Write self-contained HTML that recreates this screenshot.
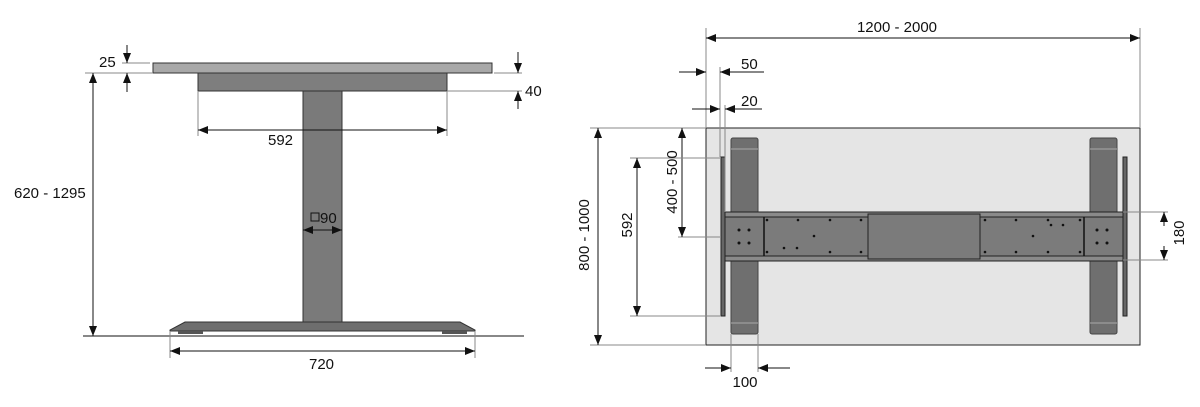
<!DOCTYPE html>
<html><head><meta charset="utf-8"><style>
html,body{margin:0;padding:0;background:#fff;}
svg{display:block;}
text{font-family:"Liberation Sans",sans-serif;font-size:15px;fill:#111;}
</style></head><body>
<svg width="1200" height="407" viewBox="0 0 1200 407" xmlns="http://www.w3.org/2000/svg">
<defs>
<marker id="a" viewBox="0 0 10 8" refX="10" refY="4" markerWidth="10" markerHeight="8" markerUnits="userSpaceOnUse" orient="auto-start-reverse"><path d="M0,0 L10,4 L0,8 z" fill="#111"/></marker>
</defs>
<g stroke="#111" stroke-width="1" fill="none">
<line x1="83" y1="336" x2="524" y2="336"/>
<rect x="153" y="63" width="339" height="10" fill="#a8a8a8" stroke="#333"/>
<rect x="198" y="73" width="249" height="18" fill="#7e7e7e" stroke="#333"/>
<rect x="303" y="91" width="39" height="231" fill="#7a7a7a" stroke="#333"/>
<path d="M185,322 L460,322 L475,330 L475,331 L170,331 L170,330 Z" fill="#6e6e6e" stroke="#333"/>
<rect x="178" y="331" width="25" height="3" fill="#555" stroke="none"/>
<rect x="442" y="331" width="25" height="3" fill="#555" stroke="none"/>
<line x1="85" y1="73" x2="153" y2="73" stroke="#888"/>
<line x1="93" y1="73" x2="93" y2="336" marker-start="url(#a)" marker-end="url(#a)"/>
<line x1="122" y1="63" x2="150" y2="63" stroke="#888"/>
<line x1="127" y1="45" x2="127" y2="63" marker-end="url(#a)"/>
<line x1="127" y1="92" x2="127" y2="73" marker-end="url(#a)"/>
<line x1="494" y1="73" x2="522" y2="73" stroke="#888"/>
<line x1="447" y1="91" x2="522" y2="91" stroke="#888"/>
<line x1="518" y1="52" x2="518" y2="73" marker-end="url(#a)"/>
<line x1="518" y1="109" x2="518" y2="91" marker-end="url(#a)"/>
<line x1="198" y1="91" x2="198" y2="136" stroke="#888"/>
<line x1="447" y1="91" x2="447" y2="136" stroke="#888"/>
<line x1="198" y1="130" x2="447" y2="130" marker-start="url(#a)" marker-end="url(#a)"/>
<line x1="303" y1="230" x2="342" y2="230" marker-start="url(#a)" marker-end="url(#a)"/>
<line x1="170" y1="331" x2="170" y2="358" stroke="#888"/>
<line x1="475" y1="331" x2="475" y2="358" stroke="#888"/>
<line x1="170" y1="351" x2="475" y2="351" marker-start="url(#a)" marker-end="url(#a)"/>

<rect x="706" y="128" width="434" height="217" fill="#e5e5e5" stroke="#222"/>
<rect x="731" y="138" width="27" height="196" rx="2" fill="#6f6f6f" stroke="#444"/>
<rect x="1090" y="138" width="27" height="196" rx="2" fill="#6f6f6f" stroke="#444"/>
<line x1="731" y1="149" x2="758" y2="149" stroke="#aaa"/><line x1="731" y1="323" x2="758" y2="323" stroke="#aaa"/>
<line x1="1090" y1="149" x2="1117" y2="149" stroke="#aaa"/><line x1="1090" y1="323" x2="1117" y2="323" stroke="#aaa"/>
<rect x="721" y="157" width="4" height="159" fill="#666" stroke="#222"/>
<rect x="1123" y="157" width="4" height="159" fill="#666" stroke="#222"/>
<rect x="725" y="212" width="398" height="49" fill="#8a8a8a" stroke="#222"/>
<rect x="868" y="214" width="112" height="45" fill="#7b7b7b" stroke="#222"/>
<rect x="725" y="217" width="143" height="39" fill="#7b7b7b" stroke="#222"/>
<rect x="980" y="217" width="143" height="39" fill="#7b7b7b" stroke="#222"/>
<line x1="764" y1="217" x2="764" y2="256" stroke-width="1.5"/>
<line x1="1084" y1="217" x2="1084" y2="256" stroke-width="1.5"/>
<g fill="#111" stroke="none">
<circle cx="739" cy="230" r="1.5"/><circle cx="749" cy="230" r="1.5"/><circle cx="739" cy="243" r="1.5"/><circle cx="749" cy="243" r="1.5"/>
<circle cx="1097" cy="230" r="1.5"/><circle cx="1107" cy="230" r="1.5"/><circle cx="1097" cy="243" r="1.5"/><circle cx="1107" cy="243" r="1.5"/>
<circle cx="767" cy="220" r="1.3"/><circle cx="798" cy="220" r="1.3"/><circle cx="830" cy="220" r="1.3"/><circle cx="861" cy="220" r="1.3"/>
<circle cx="767" cy="252" r="1.3"/><circle cx="784" cy="248" r="1.3"/><circle cx="797" cy="248" r="1.3"/><circle cx="830" cy="252" r="1.3"/><circle cx="861" cy="252" r="1.3"/><circle cx="814" cy="236" r="1.3"/>
<circle cx="985" cy="220" r="1.3"/><circle cx="1016" cy="220" r="1.3"/><circle cx="1048" cy="220" r="1.3"/><circle cx="1080" cy="220" r="1.3"/><circle cx="1051" cy="225" r="1.3"/><circle cx="1063" cy="225" r="1.3"/>
<circle cx="985" cy="252" r="1.3"/><circle cx="1016" cy="252" r="1.3"/><circle cx="1048" cy="252" r="1.3"/><circle cx="1080" cy="252" r="1.3"/><circle cx="1033" cy="236" r="1.3"/>
</g>
<line x1="706" y1="28" x2="706" y2="128" stroke="#888"/>
<line x1="1140" y1="28" x2="1140" y2="128" stroke="#888"/>
<line x1="706" y1="38" x2="1140" y2="38" marker-start="url(#a)" marker-end="url(#a)"/>
<line x1="720" y1="67" x2="720" y2="157" stroke="#888"/>
<line x1="725" y1="105" x2="725" y2="212" stroke="#888"/>
<line x1="679" y1="72" x2="706" y2="72" marker-end="url(#a)"/>
<line x1="764" y1="72" x2="720" y2="72" marker-end="url(#a)"/>
<line x1="692" y1="109" x2="720" y2="109" marker-end="url(#a)"/>
<line x1="762" y1="109" x2="725" y2="109" marker-end="url(#a)"/>
<line x1="590" y1="128" x2="706" y2="128" stroke="#888"/>
<line x1="590" y1="345" x2="706" y2="345" stroke="#888"/>
<line x1="598" y1="128" x2="598" y2="345" marker-start="url(#a)" marker-end="url(#a)"/>
<line x1="678" y1="237" x2="721" y2="237" stroke="#888"/>
<line x1="682" y1="128" x2="682" y2="237" marker-start="url(#a)" marker-end="url(#a)"/>
<line x1="630" y1="158" x2="721" y2="158" stroke="#888"/>
<line x1="630" y1="316" x2="721" y2="316" stroke="#888"/>
<line x1="637" y1="158" x2="637" y2="316" marker-start="url(#a)" marker-end="url(#a)"/>
<line x1="1123" y1="212" x2="1168" y2="212" stroke="#888"/>
<line x1="1123" y1="260" x2="1168" y2="260" stroke="#888"/>
<line x1="1164" y1="226" x2="1164" y2="212" marker-end="url(#a)"/>
<line x1="1164" y1="246" x2="1164" y2="260" marker-end="url(#a)"/>
<line x1="731" y1="334" x2="731" y2="372" stroke="#888"/>
<line x1="758" y1="334" x2="758" y2="372" stroke="#888"/>
<line x1="705" y1="368" x2="731" y2="368" marker-end="url(#a)"/>
<line x1="790" y1="368" x2="758" y2="368" marker-end="url(#a)"/>
</g>
<text x="99" y="67">25</text>
<text x="525" y="96">40</text>
<text x="268" y="145">592</text>
<text x="14" y="198">620 - 1295</text>
<rect x="311" y="213" width="8" height="8" fill="none" stroke="#111"/>
<text x="320" y="223">90</text>
<text x="309" y="369">720</text>
<text x="897" y="32" text-anchor="middle">1200 - 2000</text>
<text x="741" y="69">50</text>
<text x="741" y="106">20</text>
<text x="745" y="387" text-anchor="middle">100</text>
<text transform="translate(589,235) rotate(-90)" text-anchor="middle">800 - 1000</text>
<text transform="translate(677,182) rotate(-90)" text-anchor="middle">400 - 500</text>
<text transform="translate(632,225) rotate(-90)" text-anchor="middle">592</text>
<text transform="translate(1184,233) rotate(-90)" text-anchor="middle">180</text>
</svg>
</body></html>
